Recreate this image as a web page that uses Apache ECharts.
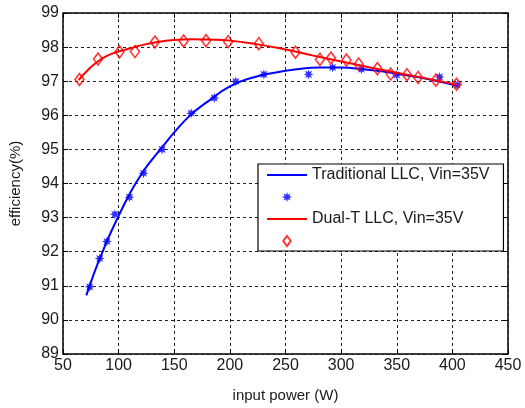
<!DOCTYPE html>
<html>
<head>
<meta charset="utf-8">
<script src="https://cdn.jsdelivr.net/npm/echarts@6/dist/echarts.min.js"></script>
<style>
    html, body { margin: 0; padding: 0; background: #fff; }
    #main { width: 525px; height: 408px; }
</style>
</head>
<body>
<div id="main"></div>
<script>
    // fitted curves
    var tradCurveX = [71, 75, 80, 85, 90, 100, 110, 120, 130, 140, 150, 165, 180, 200, 220, 240, 260, 280, 300, 320, 340, 360, 380, 404];
    var tradCurveY = [90.72, 91.1, 91.55, 91.95, 92.35, 93.05, 93.7, 94.25, 94.7, 95.1, 95.5, 96.02, 96.4, 96.85, 97.1, 97.25, 97.35, 97.4, 97.4, 97.35, 97.27, 97.17, 97.05, 96.87];
    var dualCurveX = [64, 70, 80, 90, 100, 110, 120, 135, 150, 165, 180, 200, 225, 250, 275, 300, 325, 350, 375, 404];
    var dualCurveY = [97.03, 97.25, 97.55, 97.75, 97.87, 97.96, 98.05, 98.15, 98.21, 98.23, 98.22, 98.19, 98.08, 97.93, 97.75, 97.58, 97.41, 97.25, 97.09, 96.9];

    // measured points
    var tradPointX = [74, 83, 89.5, 96.6, 109.7, 122.4, 139.1, 165.2, 186, 205.3, 230.6, 270.7, 292.3, 318.2, 350, 388.5, 404.3];
    var tradPointY = [90.97, 91.8, 92.3, 93.1, 93.6, 94.3, 95.0, 96.06, 96.51, 96.99, 97.2, 97.2, 97.4, 97.35, 97.18, 97.12, 96.89];
    var dualPointX = [64.8, 81.5, 100.8, 114.7, 132.6, 158.4, 178.6, 198.5, 226, 259, 281, 290.8, 304.8, 315.8, 332.6, 344.5, 359.1, 369.2, 385.2, 403.7];
    var dualPointY = [97.05, 97.65, 97.86, 97.87, 98.15, 98.18, 98.19, 98.16, 98.10, 97.85, 97.64, 97.68, 97.62, 97.50, 97.37, 97.21, 97.19, 97.11, 97.03, 96.91];

    var tradName = 'Traditional LLC, Vin=35V';
    var dualName = 'Dual-T LLC, Vin=35V';

    function pairs(xs, ys) {
        var out = [];
        for (var i = 0; i < xs.length; i++) {
            out.push([xs[i], ys[i]]);
        }
        return out;
    }

    // 8-ray star, like the matlab '*' marker
    function starPath() {
        var pts = [];
        for (var i = 0; i < 16; i++) {
            var r = i % 2 == 0 ? 10 : 5;
            var a = Math.PI * i / 8 - Math.PI / 2;
            pts.push((10 + r * Math.cos(a)).toFixed(2) + ',' + (10 + r * Math.sin(a)).toFixed(2));
        }
        return 'path://M' + pts.join(' L') + ' Z';
    }

    var starIcon = starPath();
    var diamondIcon = 'path://M4.5,0 L9,6 L4.5,12 L0,6 Z';
    var lineIcon = 'path://M0,0 L40,0 L40,2 L0,2 Z';

    var font = '"Liberation Sans", Arial, sans-serif';
    var textColor = '#1a1a1a';

    var myChart = echarts.init(document.getElementById('main'));
    var option = {
        animation: false,
        backgroundColor: '#fff',
        grid: {
            left: 59,
            right: 17,
            top: 13,
            bottom: 46,
            show: true,
            borderColor: '#000',
            borderWidth: 1.5
        },
        legend: {
            orient: 'vertical',
            left: 258,
            top: 164,
            padding: [3, 14, 2, 9],
            itemWidth: 40,
            itemHeight: 10,
            itemGap: 6,
            symbolKeepAspect: true,
            backgroundColor: '#fff',
            borderColor: '#000',
            borderWidth: 1.2,
            borderRadius: 0,
            textStyle: {
                fontFamily: font,
                fontSize: 16,
                lineHeight: 16,
                color: textColor
            },
            data: [
                { name: tradName, icon: lineIcon },
                { name: ' ', icon: starIcon },
                { name: dualName, icon: lineIcon },
                { name: '  ', icon: diamondIcon }
            ]
        },
        xAxis: [{
            type: 'value',
            min: 50,
            max: 450,
            interval: 50,
            name: 'input power (W)',
            nameLocation: 'middle',
            nameGap: 34,
            nameTextStyle: { fontFamily: font, fontSize: 15, color: textColor },
            axisLine: { show: false },
            axisTick: { inside: true, length: 5, lineStyle: { color: '#000' } },
            axisLabel: { fontFamily: font, fontSize: 16, color: textColor, margin: 4 },
            splitLine: { lineStyle: { color: '#222', type: [3, 3], width: 1 } }
        }, {
            type: 'value',
            position: 'top',
            min: 50,
            max: 450,
            interval: 50,
            axisLine: { show: false },
            axisTick: { inside: true, length: 5, lineStyle: { color: '#000' } },
            axisLabel: { show: false },
            splitLine: { show: false }
        }],
        yAxis: [{
            type: 'value',
            min: 89,
            max: 99,
            interval: 1,
            name: 'efficiency(%)',
            nameLocation: 'middle',
            nameGap: 40,
            nameTextStyle: { fontFamily: font, fontSize: 15, color: textColor },
            axisLine: { show: false },
            axisTick: { inside: true, length: 5, lineStyle: { color: '#000' } },
            axisLabel: { fontFamily: font, fontSize: 16, color: textColor, margin: 4 },
            splitLine: { lineStyle: { color: '#222', type: [3, 3], width: 1 } }
        }, {
            type: 'value',
            position: 'right',
            min: 89,
            max: 99,
            interval: 1,
            axisLine: { show: false },
            axisTick: { inside: true, length: 5, lineStyle: { color: '#000' } },
            axisLabel: { show: false },
            splitLine: { show: false }
        }],
        series: [{
            name: tradName,
            type: 'line',
            smooth: true,
            symbol: 'none',
            lineStyle: { color: '#0000ff', width: 2 },
            itemStyle: { color: '#0000ff' },
            data: pairs(tradCurveX, tradCurveY),
            z: 2
        }, {
            name: ' ',
            type: 'scatter',
            symbol: starIcon,
            symbolSize: 10,
            itemStyle: { color: '#0000ff' },
            data: pairs(tradPointX, tradPointY),
            z: 3
        }, {
            name: dualName,
            type: 'line',
            smooth: true,
            symbol: 'none',
            lineStyle: { color: '#ff0000', width: 2 },
            itemStyle: { color: '#ff0000' },
            data: pairs(dualCurveX, dualCurveY),
            z: 4
        }, {
            name: '  ',
            type: 'scatter',
            symbol: diamondIcon,
            symbolSize: [9, 12],
            itemStyle: { color: 'transparent', borderColor: '#ff0000', borderWidth: 1.6 },
            data: pairs(dualPointX, dualPointY),
            z: 5
        }]
    };
    myChart.setOption(option);
</script>
</body>
</html>
